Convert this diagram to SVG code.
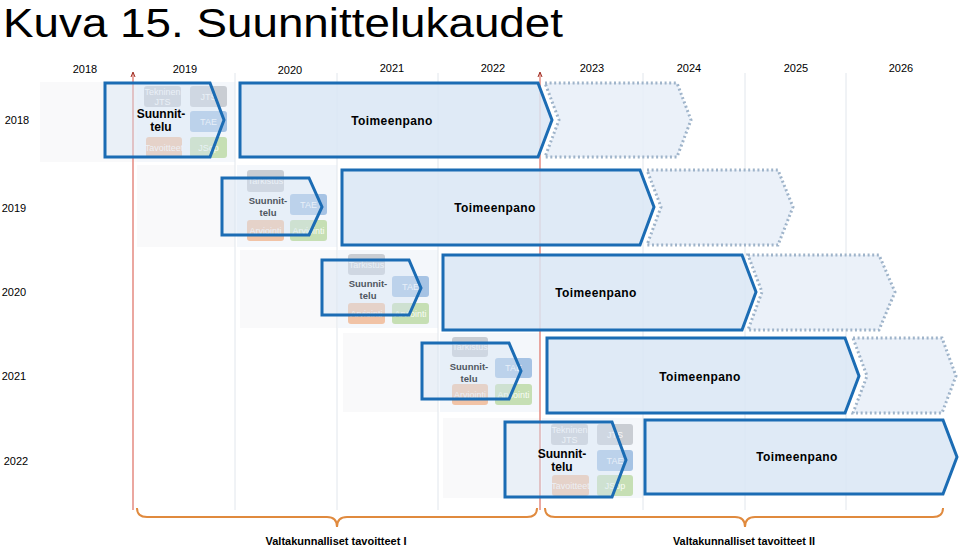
<svg xmlns="http://www.w3.org/2000/svg" width="960" height="547" viewBox="0 0 960 547">
<style>
text{font-family:"Liberation Sans",Arial,sans-serif;}
.title{font-size:41px;fill:#000;}
.yr{font-size:11px;fill:#000;text-anchor:middle;}
.bgA{fill:#f9f9fa;}
.bgB{fill:#f4f7fb;}
.grid{stroke:#e1e6ec;stroke-width:1;}
.red{stroke:#e58a80;stroke-width:1.5;}
.tg{fill:#c9cdd3;}
.tb{fill:#a6c3e4;}
.to{fill:#f1c3a6;}
.tn{fill:#c6dfb4;}
.tt{font-size:9px;fill:#fff;fill-opacity:0.9;text-anchor:middle;}
.plan{fill:#d6e4f3;fill-opacity:0.45;stroke:#1b6cb4;stroke-width:3;stroke-linejoin:miter;}
.impl{fill:#d9e6f4;fill-opacity:0.85;stroke:#1b6cb4;stroke-width:3;}
.fut{fill:#e8eff8;fill-opacity:0.85;stroke:#9fb4ca;stroke-width:3;stroke-dasharray:2 2.6;}
.sL{font-size:12px;font-weight:bold;fill:#000;text-anchor:middle;}
.sS{font-size:9.5px;font-weight:bold;fill:#4f5660;text-anchor:middle;}
.tp{font-size:12px;font-weight:bold;fill:#000;text-anchor:middle;letter-spacing:0.4px;}
.brace{fill:none;stroke:#e08a3e;stroke-width:2;}
.bl{font-size:11px;font-weight:bold;fill:#000;text-anchor:middle;}
</style>
<rect width="960" height="547" fill="#fff"/>
<text class="title" x="3" y="37" textLength="560" lengthAdjust="spacingAndGlyphs">Kuva 15. Suunnittelukaudet</text>

<g id="header">
<text class="yr" x="85" y="73">2018</text>
<text class="yr" x="185" y="73">2019</text>
<text class="yr" x="290" y="74">2020</text>
<text class="yr" x="392" y="72">2021</text>
<text class="yr" x="493" y="72">2022</text>
<text class="yr" x="592" y="72">2023</text>
<text class="yr" x="689" y="72">2024</text>
<text class="yr" x="796" y="72">2025</text>
<text class="yr" x="901" y="72">2026</text>
</g>

<g id="row-labels">
<text class="yr" x="17" y="124">2018</text>
<text class="yr" x="14" y="212">2019</text>
<text class="yr" x="14" y="296">2020</text>
<text class="yr" x="14" y="380">2021</text>
<text class="yr" x="16" y="465">2022</text>
</g>

<g id="backgrounds">
<rect class="bgA" x="40" y="82" width="97" height="80"/>
<rect class="bgB" x="137" y="82" width="98" height="80"/>
<rect class="bgA" x="137" y="165" width="98" height="82"/>
<rect class="bgB" x="237" y="165" width="100" height="82"/>
<rect class="bgA" x="240" y="250" width="97" height="78"/>
<rect class="bgB" x="338" y="250" width="100" height="78"/>
<rect class="bgA" x="343" y="333" width="95" height="79"/>
<rect class="bgB" x="440" y="333" width="100" height="79"/>
<rect class="bgA" x="443" y="418" width="97" height="80"/>
<rect class="bgB" x="542" y="418" width="101" height="80"/>
</g>

<g id="gridlines">
<line class="grid" x1="235" y1="73" x2="235" y2="510"/>
<line class="grid" x1="337" y1="73" x2="337" y2="510"/>
<line class="grid" x1="438" y1="73" x2="438" y2="510"/>
<line class="grid" x1="643" y1="73" x2="643" y2="510"/>
<line class="grid" x1="745" y1="73" x2="745" y2="510"/>
<line class="grid" x1="846" y1="73" x2="846" y2="510"/>
<line class="red" x1="133" y1="73" x2="133" y2="510"/>
<line class="red" x1="540" y1="73" x2="540" y2="510"/>
<path d="M131,77 L133,72 L135,77" fill="none" stroke="#9b2a20" stroke-width="1"/>
<path d="M538,77 L540,72 L542,77" fill="none" stroke="#9b2a20" stroke-width="1"/>
</g>

<g id="row2018-future"><polygon class="fut" points="545,83 677,83 691,120 677,157 545,157 559,120"/></g>
<g id="row2019-future"><polygon class="fut" points="647,170 778,170 793,207 778,245 647,245 661,207"/></g>
<g id="row2020-future"><polygon class="fut" points="748,255 879,255 895,292 879,330 748,330 762,292"/></g>
<g id="row2021-future"><polygon class="fut" points="853,338 942,338 956,376 942,413 853,413 867,376"/></g>

<g id="row2018-planning">
<rect class="tg" x="144" y="86" width="37" height="21" rx="3"/>
<text class="tt" x="162.5" y="95">Tekninen</text>
<text class="tt" x="162.5" y="105">JTS</text>
<rect class="tg" x="190" y="86" width="37" height="21" rx="3"/>
<text class="tt" x="208.5" y="99.5">JTS</text>
<rect class="tb" x="190" y="111" width="37" height="21" rx="3"/>
<text class="tt" x="208.5" y="124.5">TAE</text>
<rect class="to" x="146" y="137" width="36" height="21" rx="3"/>
<text class="tt" x="164" y="150.5">Tavoitteet</text>
<rect class="tn" x="190" y="137" width="37" height="21" rx="3"/>
<text class="tt" x="208.5" y="150.5">JSop</text>
<polygon class="plan" points="105,83 210,83 224,120 210,157 105,157"/>
<text class="sL" x="161" y="118">Suunnit-</text>
<text class="sL" x="161" y="131">telu</text>
</g>
<g id="row2018-implementation">
<polygon class="impl" points="240,83 538,83 552,120 538,157 240,157"/>
<text class="tp" x="392" y="125">Toimeenpano</text>
</g>

<g id="row2019-planning">
<rect class="tg" x="247" y="170" width="37" height="22" rx="3"/>
<text class="tt" x="265.5" y="184">Tarkistus</text>
<rect class="tb" x="290" y="194" width="37" height="21" rx="3"/>
<text class="tt" x="308.5" y="207.5">TAE</text>
<rect class="to" x="247" y="220" width="37" height="21" rx="3"/>
<text class="tt" x="265.5" y="233.5">Arviointi</text>
<rect class="tn" x="290" y="220" width="37" height="21" rx="3"/>
<text class="tt" x="308.5" y="233.5">Arviointi</text>
<polygon class="plan" points="222,178 309,178 322,207 309,235 222,235"/>
<text class="sS" x="268" y="204">Suunnit-</text>
<text class="sS" x="268" y="216">telu</text>
</g>
<g id="row2019-implementation">
<polygon class="impl" points="342,170 640,170 654,207 640,245 342,245"/>
<text class="tp" x="495" y="212">Toimeenpano</text>
</g>

<g id="row2020-planning">
<rect class="tg" x="348" y="254" width="37" height="21" rx="3"/>
<text class="tt" x="366.5" y="267.5">Tarkistus</text>
<rect class="tb" x="392" y="276" width="37" height="21" rx="3"/>
<text class="tt" x="410.5" y="289.5">TAE</text>
<rect class="to" x="348" y="303" width="37" height="21" rx="3"/>
<text class="tt" x="366.5" y="316.5">Arviointi</text>
<rect class="tn" x="392" y="303" width="37" height="21" rx="3"/>
<text class="tt" x="410.5" y="316.5">Arviointi</text>
<polygon class="plan" points="322,260 409,260 421,288 409,315 322,315"/>
<text class="sS" x="368" y="287">Suunnit-</text>
<text class="sS" x="368" y="299">telu</text>
</g>
<g id="row2020-implementation">
<polygon class="impl" points="443,255 742,255 756,292 742,330 443,330"/>
<text class="tp" x="596" y="297">Toimeenpano</text>
</g>

<g id="row2021-planning">
<rect class="tg" x="452" y="337" width="36" height="20" rx="3"/>
<text class="tt" x="470" y="350">Tarkistus</text>
<rect class="tb" x="495" y="358" width="37" height="20" rx="3"/>
<text class="tt" x="513.5" y="371">TAE</text>
<rect class="to" x="452" y="384" width="36" height="21" rx="3"/>
<text class="tt" x="470" y="397.5">Arviointi</text>
<rect class="tn" x="495" y="384" width="37" height="21" rx="3"/>
<text class="tt" x="513.5" y="397.5">Arviointi</text>
<polygon class="plan" points="422,343 509,343 521,371 509,399 422,399"/>
<text class="sS" x="469" y="370">Suunnit-</text>
<text class="sS" x="469" y="382">telu</text>
</g>
<g id="row2021-implementation">
<polygon class="impl" points="547,338 845,338 859,376 845,413 547,413"/>
<text class="tp" x="700" y="381">Toimeenpano</text>
</g>

<g id="row2022-planning">
<rect class="tg" x="551" y="424" width="37" height="21" rx="3"/>
<text class="tt" x="569.5" y="433">Tekninen</text>
<text class="tt" x="569.5" y="443">JTS</text>
<rect class="tg" x="597" y="424" width="36" height="21" rx="3"/>
<text class="tt" x="615" y="437.5">JTS</text>
<rect class="tb" x="597" y="450" width="36" height="21" rx="3"/>
<text class="tt" x="615" y="463.5">TAE</text>
<rect class="to" x="552" y="475" width="37" height="21" rx="3"/>
<text class="tt" x="570.5" y="488.5">Tavoitteet</text>
<rect class="tn" x="597" y="475" width="36" height="21" rx="3"/>
<text class="tt" x="615" y="488.5">JSop</text>
<polygon class="plan" points="505,422 612,422 626,460 612,497 505,497"/>
<text class="sL" x="562" y="458">Suunnit-</text>
<text class="sL" x="562" y="471">telu</text>
</g>
<g id="row2022-implementation">
<polygon class="impl" points="645,420 943,420 957,457 943,494 645,494"/>
<text class="tp" x="797" y="461">Toimeenpano</text>
</g>

<g id="braces">
<path class="brace" d="M137,508 Q137,517 147,517 L327,517 Q337,517 337,527 Q337,517 347,517 L527,517 Q537,517 537,508"/>
<path class="brace" d="M545,508 Q545,517 555,517 L735,517 Q745,517 745,527 Q745,517 755,517 L933,517 Q943,517 943,508"/>
<text class="bl" x="336" y="545" textLength="141" lengthAdjust="spacingAndGlyphs">Valtakunnalliset tavoitteet I</text>
<text class="bl" x="744" y="545" textLength="142" lengthAdjust="spacingAndGlyphs">Valtakunnalliset tavoitteet II</text>
</g>
</svg>
